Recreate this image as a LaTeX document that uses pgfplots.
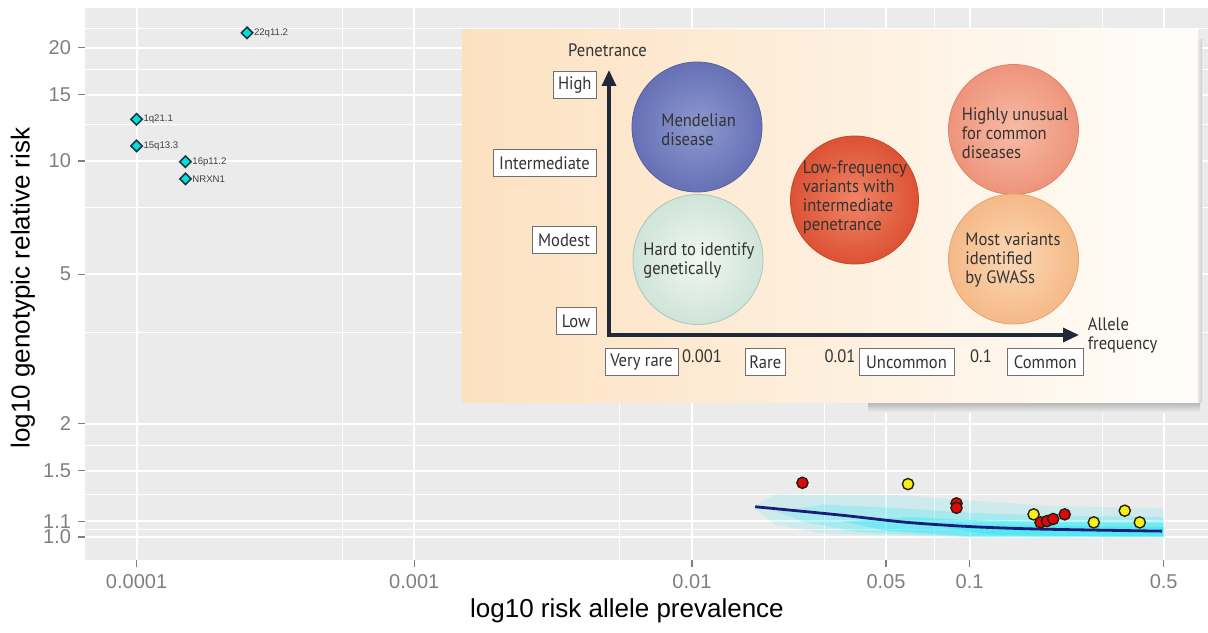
\documentclass[border=0pt]{standalone}
\usepackage{pgfplots}
\pgfplotsset{compat=1.18}
\usepackage{fontspec}
\setmainfont{Liberation Sans}
\newfontfamily\insetfont[FakeStretch=0.92]{PT Sans}
\usetikzlibrary{arrows.meta}
\definecolor{panelbg}{HTML}{EBEBEB}
\definecolor{tickgrey}{HTML}{7F7F7F}
\definecolor{diamondfill}{HTML}{00E0E0}
\definecolor{diamondedge}{HTML}{1B3B40}
\definecolor{ptred}{HTML}{DD0A0A}
\definecolor{ptyellow}{HTML}{F2F21A}
\definecolor{ptedge}{HTML}{2E1A0A}
\definecolor{navyline}{HTML}{1C1C78}
\definecolor{cloud}{HTML}{00E8F8}
\definecolor{insettext}{HTML}{333333}
\definecolor{boxedge}{HTML}{707070}
\definecolor{arrowc}{HTML}{1F2937}
\definecolor{insetL}{HTML}{FCE1C0}
\definecolor{insetM}{HTML}{FEF4E6}
\definecolor{insetR}{HTML}{FFFDFA}
\definecolor{blueIn}{HTML}{8E98CF}
\definecolor{blueOut}{HTML}{6671B6}
\definecolor{blueEdge}{HTML}{5560A0}
\definecolor{greenIn}{HTML}{F0F7F2}
\definecolor{greenOut}{HTML}{CFE4D9}
\definecolor{greenEdge}{HTML}{A9C8B9}
\definecolor{redIn}{HTML}{F08468}
\definecolor{redOut}{HTML}{DC5233}
\definecolor{redEdge}{HTML}{C04A30}
\definecolor{salmIn}{HTML}{F8BBA5}
\definecolor{salmOut}{HTML}{EE947B}
\definecolor{salmEdge}{HTML}{D8856C}
\definecolor{orIn}{HTML}{FCD8B5}
\definecolor{orOut}{HTML}{F5B987}
\definecolor{orEdge}{HTML}{E2A374}
\begin{document}
\begin{tikzpicture}
\begin{axis}[
  at={(42.5pt,36pt)}, anchor=south west,
  width=561.5pt, height=276pt, scale only axis,
  xmode=log, ymode=log,
  xmin=6.52e-5, xmax=0.722, ymin=0.869, ymax=25.5,
  axis background/.style={fill=panelbg},
  axis line style={draw=none},
  xtick={0.0001,0.001,0.01,0.05,0.1,0.5},
  xticklabels={0.0001,0.001,0.01,0.05,0.1,0.5},
  minor xtick={0.00055,0.0055,0.03,0.075,0.3},
  ytick={1,1.1,1.5,2,5,10,15,20},
  yticklabels={1.0,1.1,1.5,2,5,10,15,20},
  minor ytick={1.05,1.3,1.75,3.5,7.5,12.5,17.5,22.5},
  grid=both,
  major grid style={white, line width=1pt},
  minor grid style={white, line width=0.45pt},
  tick pos=left, tick align=outside,
  major tick length=3.5pt, minor tick length=0pt,
  tick style={tickgrey, line width=0.6pt},
  tick label style={font=\fontsize{10}{12}\selectfont, text=tickgrey},
  label style={font=\fontsize{13}{15}\selectfont},
  xlabel={log10 risk allele prevalence},
  ylabel={log10 genotypic relative risk},
  xlabel style={at={(axis description cs:0.4826,-0.0924)}, anchor=center},
  ylabel style={at={(axis description cs:-0.0552,0.4928)}, anchor=center},
  clip=true,
]
% cyan cloud of simulated points (layered bands)
\addplot[draw=none, fill=cloud, fill opacity=0.12] coordinates {(0.0165,1.2)(0.02,1.3)(0.06,1.29)(0.1,1.25)(0.2,1.21)(0.5,1.19)(0.5,1.0)(0.1,1.0)(0.03,1.02)(0.02,1.08)} -- cycle;
\addplot[draw=none, fill=cloud, fill opacity=0.18] coordinates {(0.02,1.17)(0.03,1.22)(0.06,1.19)(0.1,1.16)(0.2,1.14)(0.5,1.13)(0.5,1.0)(0.1,1.0)(0.04,1.03)(0.025,1.1)} -- cycle;
\addplot[draw=none, fill=cloud, fill opacity=0.3] coordinates {(0.035,1.1)(0.06,1.13)(0.1,1.11)(0.2,1.095)(0.5,1.09)(0.5,1.0)(0.1,1.005)(0.05,1.04)} -- cycle;
\addplot[draw=none, fill=cloud, fill opacity=0.3] coordinates {(0.08,1.06)(0.12,1.075)(0.2,1.07)(0.5,1.065)(0.5,1.005)(0.2,1.008)(0.12,1.015)} -- cycle;
% fitted line
\addplot[navyline, line width=1.4pt, smooth] coordinates {(0.0169,1.204)(0.0343,1.144)(0.0596,1.094)(0.1035,1.065)(0.18,1.05)(0.493,1.037)};
% CNV diamonds
\addplot[only marks, mark=square*, mark size=2pt,
  mark options={rotate=45, fill=diamondfill, draw=diamondedge, line width=0.8pt},
  nodes near coords, point meta=explicit symbolic,
  nodes near coords style={anchor=west, font=\fontsize{4.8}{5}\selectfont, text=black!75, xshift=2.6pt, inner sep=0.5pt}]
  table[meta=label] {
x y label
0.00025 21.9 22q11.2
0.0001 12.9 1q21.1
0.0001 10.96 15q13.3
0.00015 9.95 16p11.2
0.00015 8.96 NRXN1
};
% yellow points
\addplot[only marks, mark=*, mark size=2.8pt, mark options={fill=ptyellow, draw=ptedge, line width=0.7pt}]
  coordinates {(0.06,1.383)(0.17,1.149)(0.28,1.094)(0.362,1.175)(0.41,1.094)};
% red points
\addplot[only marks, mark=*, mark size=2.8pt, mark options={fill=ptred, draw=ptedge, line width=0.7pt}]
  coordinates {(0.025,1.394)(0.0897,1.229)(0.0897,1.196)(0.18,1.094)(0.19,1.103)(0.2,1.117)(0.22,1.149)};
\end{axis}
% ---------------- inset diagram (pixel coordinates) ----------------
\begin{scope}[x=0.5pt,y=-0.5pt,yshift=316pt]
  \shade[top color=black!32, bottom color=panelbg] (868,401) rectangle (1200,412);
  \shade[left color=panelbg, right color=black!18] (1197,40) rectangle (1202,402);
  \fill[white] (462,30) rectangle (1198,402);
  \shade[left color=insetL, middle color=insetM, right color=insetR] (462,30) rectangle (1198,402);
  % circles
  \shadedraw[inner color=blueIn, outer color=blueOut, draw=blueEdge, line width=0.4pt] (697,127) circle (65);
  \shadedraw[inner color=greenIn, outer color=greenOut, draw=greenEdge, line width=0.4pt] (698,259.5) circle (65);
  \shadedraw[inner color=redIn, outer color=redOut, draw=redEdge, line width=0.4pt] (854.5,200) circle (64);
  \shadedraw[inner color=salmIn, outer color=salmOut, draw=salmEdge, line width=0.4pt] (1013.5,129.5) circle (65);
  \shadedraw[inner color=orIn, outer color=orOut, draw=orEdge, line width=0.4pt] (1013.5,259) circle (65);
  \begin{scope}[every node/.style={font=\insetfont\fontsize{9}{9.5}\selectfont, text=insettext, inner sep=0pt}]
    \node[anchor=west, align=left] at (661,129.5) {Mendelian\\disease};
    \node[anchor=west, align=left] at (643,261) {Hard to identify\\genetically};
    \node[anchor=west, align=left] at (802.5,197.5) {Low-frequency\\variants with\\intermediate\\penetrance};
    \node[anchor=west, align=left] at (961.5,133) {Highly unusual\\for common\\diseases};
    \node[anchor=west, align=left] at (965,259.5) {Most variants\\identified\\by GWASs};
    \node at (607.5,50) {Penetrance};
    \node[anchor=west, align=left] at (1087.5,335) {Allele\\frequency};
    \node at (702,356) {0.001};
    \node at (840,356) {0.01};
    \node at (981,356) {0.1};
    % label boxes
    \draw[boxedge, fill=white, line width=0.5pt] (553.5,72) rectangle (596,98.5);
    \node at (574.75,85.5) {High};
    \draw[boxedge, fill=white, line width=0.5pt] (493,150) rectangle (596,176.5);
    \node at (544.5,163.5) {Intermediate};
    \draw[boxedge, fill=white, line width=0.5pt] (532,227) rectangle (596,254);
    \node at (564,240.5) {Modest};
    \draw[boxedge, fill=white, line width=0.5pt] (556,308) rectangle (596,335);
    \node at (576,321.5) {Low};
    \draw[boxedge, fill=white, line width=0.5pt] (605,348.5) rectangle (678,375.5);
    \node at (641.5,362) {Very rare};
    \draw[boxedge, fill=white, line width=0.5pt] (745,349) rectangle (785.5,375.5);
    \node at (765.25,362) {Rare};
    \draw[boxedge, fill=white, line width=0.5pt] (859,349) rectangle (954,375.5);
    \node at (906.5,362) {Uncommon};
    \draw[boxedge, fill=white, line width=0.5pt] (1007.5,349) rectangle (1083,375.5);
    \node at (1045.25,362) {Common};
  \end{scope}
  % axes arrows
  \draw[arrowc, line width=1.6pt, {Triangle[length=8pt,width=7pt]}-{Triangle[length=8pt,width=7pt]}] (609,70) -- (609,335) -- (1079,335);
\end{scope}
\pgfresetboundingbox
\path[use as bounding box] (0,0) rectangle (604pt,316pt);
\end{tikzpicture}
\end{document}
